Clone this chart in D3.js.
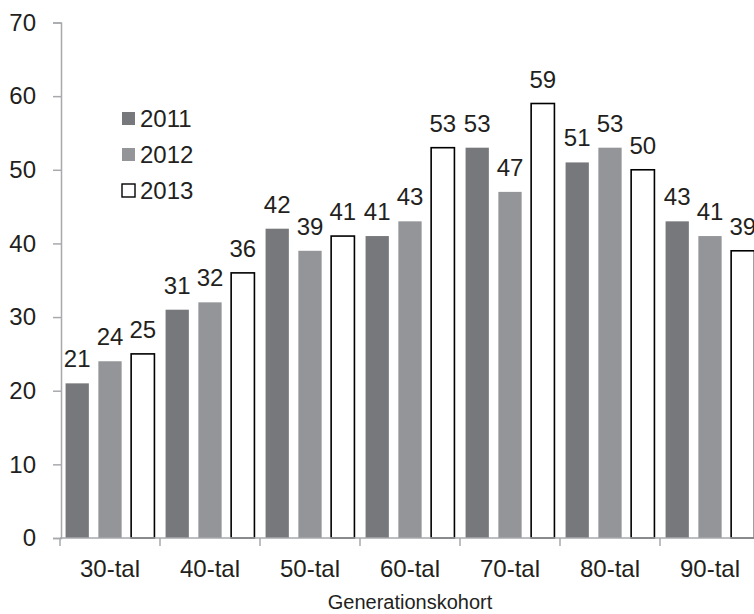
<!DOCTYPE html>
<html>
<head>
<meta charset="utf-8">
<script src="https://cdn.jsdelivr.net/npm/d3@7"></script>
<style>
  body { margin: 0; background: #fff; }
  svg { display: block; font-family: "Liberation Sans", Arial, sans-serif; }
</style>
</head>
<body>
<svg width="754" height="614"></svg>
<script>
const categories = ["30-tal", "40-tal", "50-tal", "60-tal", "70-tal", "80-tal", "90-tal"];
const years = ["2011", "2012", "2013"];
const values2011 = [21, 31, 42, 41, 53, 51, 43];
const values2012 = [24, 32, 39, 43, 47, 53, 41];
const values2013 = [25, 36, 41, 53, 59, 50, 39];
const yTicks = [0, 10, 20, 30, 40, 50, 60, 70];
const xTitle = "Generationskohort";

const seriesByYear = {"2011": values2011, "2012": values2012, "2013": values2013};
const fills = {"2011": "#77787b", "2012": "#939598", "2013": "#ffffff"};

const svg = d3.select("svg");
const axisColor = "#a7a9ac";
const textColor = "#231f20";
const fontSize = 24;

const x0 = d3.scaleBand().domain(categories).range([60, 760]);
const x1 = d3.scaleBand().domain(years).range([0, x0.bandwidth()])
    .paddingInner(0.29).paddingOuter(0.17);
const y = d3.scaleLinear().domain([0, 70]).range([538, 22.5]);

// y axis
const yAxis = svg.append("g")
    .attr("transform", "translate(61,0)")
    .call(d3.axisLeft(y).tickValues(yTicks).tickSize(8).tickPadding(17));
yAxis.select(".domain").attr("stroke", axisColor).attr("stroke-width", 1.5);
yAxis.selectAll(".tick line").attr("stroke", axisColor).attr("stroke-width", 1.5);
yAxis.selectAll(".tick text")
    .attr("fill", textColor).attr("font-size", fontSize)
    .attr("font-family", "Liberation Sans, Arial, sans-serif");

// bars
const rows = categories.map((c, i) => ({cat: c, vals: years.map(yr => ({year: yr, v: seriesByYear[yr][i]}))}));
const groups = svg.append("g").selectAll("g")
    .data(rows).join("g")
    .attr("transform", d => `translate(${x0(d.cat)},0)`);

groups.selectAll("rect")
    .data(d => d.vals).join("rect")
    .attr("x", d => x1(d.year))
    .attr("y", d => y(d.v))
    .attr("width", x1.bandwidth())
    .attr("height", d => y(0) - y(d.v))
    .attr("fill", d => fills[d.year])
    .attr("stroke", d => d.year === "2013" ? "#000" : "none")
    .attr("stroke-width", 1.6);

groups.selectAll("text")
    .data(d => d.vals).join("text")
    .attr("x", d => x1(d.year) + x1.bandwidth() / 2)
    .attr("y", d => y(d.v) - 16)
    .attr("text-anchor", "middle")
    .attr("font-size", fontSize)
    .attr("fill", textColor)
    .text(d => d.v);

// x axis
const xAxisG = svg.append("g").attr("transform", `translate(0,${y(0)})`);
xAxisG.append("line")
    .attr("x1", 60).attr("x2", 760)
    .attr("stroke", axisColor).attr("stroke-width", 1.5);
xAxisG.selectAll(".xtick")
    .data(categories).join("line")
    .attr("class", "xtick")
    .attr("x1", d => x0(d)).attr("x2", d => x0(d))
    .attr("y1", 0).attr("y2", 8)
    .attr("stroke", axisColor).attr("stroke-width", 1.5);
xAxisG.selectAll(".xlabel")
    .data(categories).join("text")
    .attr("class", "xlabel")
    .attr("x", d => x0(d) + x0.bandwidth() / 2)
    .attr("y", 39)
    .attr("text-anchor", "middle")
    .attr("font-size", fontSize)
    .attr("fill", textColor)
    .text(d => d);

svg.append("text")
    .attr("x", 410).attr("y", 609)
    .attr("text-anchor", "middle")
    .attr("font-size", 20)
    .attr("fill", textColor)
    .text(xTitle);

// legend
const legend = svg.append("g").attr("transform", "translate(122,112)");
const li = legend.selectAll("g").data(years).join("g")
    .attr("transform", (d, i) => `translate(0,${i * 36})`);
li.append("rect")
    .attr("width", 13).attr("height", 13)
    .attr("fill", d => fills[d])
    .attr("stroke", d => d === "2013" ? "#000" : "none")
    .attr("stroke-width", 1.4);
li.append("text")
    .attr("x", 18).attr("y", 15)
    .attr("font-size", fontSize)
    .attr("fill", textColor)
    .text(d => d);
</script>
</body>
</html>
